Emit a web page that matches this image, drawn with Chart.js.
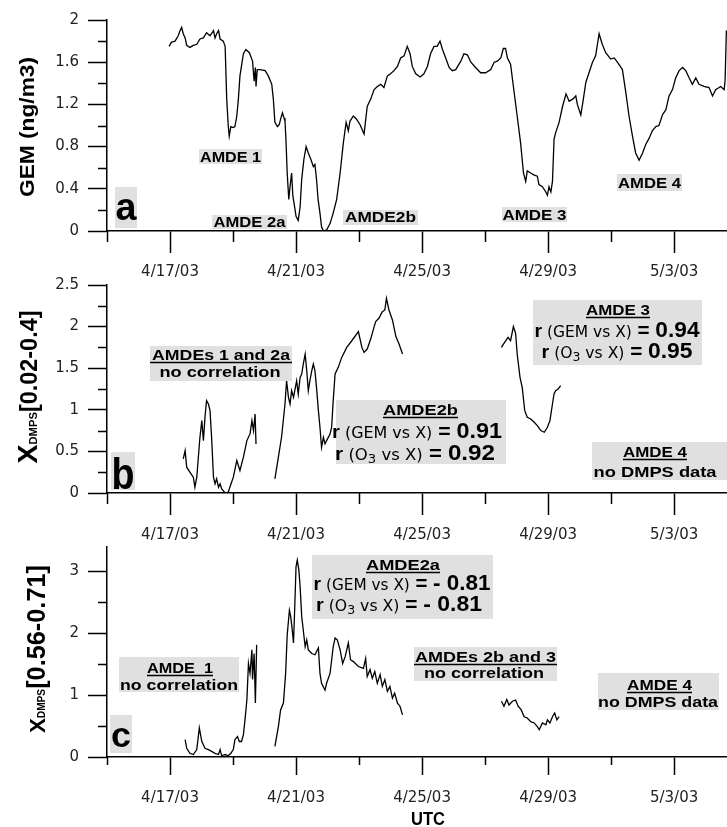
<!DOCTYPE html>
<html><head><meta charset="utf-8">
<script src="https://cdn.jsdelivr.net/npm/chart.js@4.4.0/dist/chart.umd.min.js"></script>
<style>
html,body{margin:0;padding:0;background:#fff;width:727px;height:827px;overflow:hidden;}
canvas{position:absolute;left:0;}
</style></head><body>
<canvas id="ca"></canvas><canvas id="cb"></canvas><canvas id="cc"></canvas>
<script>
// ---- axis ticks (x in days since 4/15/03 00:00 UTC) ----
const xTickDays = [2, 6, 10, 14, 18];
const xTickLabels = ['4/17/03', '4/21/03', '4/25/03', '4/29/03', '5/3/03'];
const xMinorDays = [0, 4, 8, 12, 16];
const xMaxDay = 19.68;

const aYTicks = [0, 0.4, 0.8, 1.2, 1.6, 2];
const aYTickLabels = ['0', '0.4', '0.8', '1.2', '1.6', '2'];
const aYMinor = [0.2, 0.6, 1.0, 1.4, 1.8];
const bYTicks = [0, 0.5, 1, 1.5, 2, 2.5];
const bYTickLabels = ['0', '0.5', '1', '1.5', '2', '2.5'];
const bYMinor = [0.25, 0.75, 1.25, 1.75, 2.25];
const cYTicks = [0, 1, 2, 3];
const cYTickLabels = ['0', '1', '2', '3'];
const cYMinor = [0.5, 1.5, 2.5];

// ---- panel a: GEM (ng/m3) ----
const gemDays = [1.97,2.05,2.16,2.26,2.32,2.37,2.42,2.48,2.53,2.63,2.74,2.85,2.95,3.06,3.16,3.27,3.38,3.43,3.48,3.54,3.59,3.69,3.75,3.80,3.85,3.88,3.93,4.01,4.06,4.12,4.17,4.22,4.33,4.41,4.52,4.62,4.67,4.71,4.73,4.77,4.86,5.02,5.12,5.23,5.28,5.33,5.41,5.47,5.51,5.57,5.62,5.65,5.68,5.72,5.77,5.81,5.86,5.90,5.94,6.00,6.07,6.13,6.18,6.25,6.32,6.39,6.47,6.55,6.60,6.65,6.70,6.76,6.81,6.87,6.97,7.08,7.18,7.29,7.40,7.50,7.59,7.66,7.71,7.82,7.92,8.03,8.16,8.26,8.37,8.48,8.58,8.69,8.79,8.90,9.00,9.11,9.22,9.32,9.43,9.53,9.62,9.69,9.80,9.94,10.06,10.17,10.27,10.38,10.48,10.57,10.65,10.75,10.86,10.96,11.07,11.23,11.33,11.44,11.55,11.70,11.86,12.02,12.18,12.29,12.39,12.50,12.58,12.65,12.71,12.81,12.90,13.02,13.13,13.22,13.29,13.34,13.45,13.56,13.66,13.71,13.82,13.93,13.98,14.03,14.09,14.14,14.19,14.24,14.35,14.46,14.57,14.67,14.78,14.88,14.93,15.04,15.12,15.20,15.30,15.41,15.51,15.62,15.72,15.83,15.99,16.10,16.20,16.36,16.47,16.57,16.68,16.78,16.89,17.00,17.10,17.21,17.31,17.42,17.52,17.63,17.74,17.84,17.95,18.05,18.16,18.27,18.37,18.48,18.58,18.69,18.79,18.95,19.11,19.22,19.32,19.48,19.59,19.62,19.66];
const gemValues = [1.75,1.79,1.80,1.85,1.90,1.93,1.87,1.83,1.76,1.74,1.76,1.77,1.82,1.83,1.88,1.85,1.90,1.83,1.87,1.90,1.82,1.80,1.75,1.25,0.99,0.90,0.99,0.98,0.99,1.09,1.25,1.47,1.68,1.72,1.69,1.61,1.42,1.55,1.37,1.53,1.53,1.52,1.47,1.39,1.25,1.03,0.99,1.01,1.06,1.12,1.07,1.04,0.87,0.55,0.30,0.42,0.55,0.33,0.26,0.14,0.10,0.23,0.49,0.68,0.80,0.74,0.68,0.61,0.63,0.49,0.30,0.17,0.04,0.00,0.01,0.07,0.17,0.30,0.55,0.83,1.03,0.95,1.04,1.09,1.06,1.01,0.92,1.18,1.25,1.34,1.37,1.39,1.36,1.47,1.49,1.52,1.56,1.64,1.66,1.75,1.68,1.56,1.49,1.46,1.49,1.56,1.68,1.75,1.75,1.80,1.72,1.64,1.55,1.52,1.53,1.61,1.68,1.67,1.60,1.55,1.50,1.50,1.53,1.60,1.61,1.64,1.73,1.73,1.64,1.58,1.37,1.09,0.83,0.55,0.47,0.57,0.55,0.53,0.52,0.44,0.42,0.37,0.34,0.42,0.37,0.47,0.87,0.93,1.03,1.18,1.30,1.23,1.25,1.28,1.20,1.10,1.25,1.41,1.50,1.60,1.66,1.87,1.77,1.69,1.63,1.64,1.60,1.53,1.31,1.09,0.90,0.74,0.67,0.74,0.82,0.88,0.95,0.99,1.00,1.10,1.15,1.28,1.34,1.45,1.52,1.55,1.52,1.45,1.39,1.45,1.39,1.37,1.36,1.28,1.34,1.37,1.34,1.43,1.90];

// ---- panel b: X_DMPS[0.02-0.4] ----
const b1Days = [2.42,2.48,2.53,2.63,2.74,2.79,2.85,2.90,2.95,3.01,3.06,3.11,3.16,3.22,3.27,3.32,3.38,3.43,3.48,3.54,3.59,3.64,3.75,3.85,3.90,4.01,4.12,4.22,4.33,4.44,4.54,4.60,4.65,4.70,4.73];
const b1Values = [0.41,0.51,0.31,0.25,0.19,0.07,0.19,0.43,0.67,0.87,0.63,0.91,1.11,1.07,0.99,0.67,0.19,0.11,0.17,0.07,0.11,0.05,0.00,0.01,0.07,0.19,0.39,0.27,0.43,0.63,0.71,0.87,0.75,0.95,0.59];
const b2Days = [5.33,5.44,5.54,5.65,5.70,5.76,5.81,5.86,5.92,6.02,6.07,6.13,6.18,6.23,6.29,6.34,6.39,6.44,6.50,6.55,6.60,6.65,6.71,6.76,6.81,6.87,6.92,6.97,7.08,7.13,7.18,7.24,7.34,7.45,7.61,7.77,7.98,8.09,8.16,8.26,8.37,8.48,8.53,8.63,8.74,8.82,8.87,8.95,9.06,9.17,9.27,9.38];
const b2Values = [0.17,0.43,0.67,1.07,1.35,1.15,1.07,1.23,1.15,1.35,1.19,1.39,1.43,1.55,1.67,1.47,1.23,1.35,1.47,1.55,1.47,1.27,0.99,0.79,0.55,0.67,0.59,0.63,0.71,0.79,1.11,1.43,1.51,1.63,1.75,1.83,1.94,1.75,1.69,1.73,1.85,2.00,2.06,2.10,2.18,2.20,2.34,2.20,2.08,1.88,1.79,1.67];
const b3Days = [12.52,12.62,12.73,12.81,12.90,12.97,13.02,13.11,13.18,13.26,13.34,13.45,13.56,13.66,13.77,13.88,13.98,14.06,14.14,14.19,14.24,14.32,14.40];
const b3Values = [1.75,1.81,1.87,1.83,2.00,1.92,1.67,1.39,1.27,0.99,0.91,0.89,0.85,0.81,0.75,0.73,0.79,0.87,1.07,1.19,1.23,1.25,1.29];

// ---- panel c: X_DMPS[0.56-0.71] ----
const c1Days = [2.48,2.53,2.63,2.74,2.85,2.93,3.01,3.11,3.22,3.32,3.43,3.54,3.59,3.64,3.75,3.85,3.93,4.01,4.06,4.14,4.20,4.27,4.33,4.38,4.44,4.49,4.54,4.60,4.62,4.67,4.71,4.75];
const c1Values = [0.28,0.14,0.06,0.04,0.12,0.47,0.25,0.14,0.12,0.09,0.06,0.04,0.12,0.02,0.04,0.02,0.06,0.12,0.28,0.33,0.25,0.25,0.36,0.60,0.92,1.51,1.35,1.73,1.25,1.67,0.87,1.81];
const c2Days = [5.33,5.44,5.51,5.60,5.67,5.72,5.79,5.83,5.87,5.92,5.96,6.00,6.04,6.09,6.13,6.18,6.23,6.29,6.34,6.39,6.50,6.60,6.71,6.76,6.81,6.92,6.97,7.08,7.18,7.24,7.31,7.40,7.48,7.56,7.66,7.73,7.82,7.98,8.14,8.21,8.26,8.35,8.42,8.50,8.58,8.67,8.74,8.82,8.90,8.98,9.06,9.13,9.22,9.30,9.38];
const c2Values = [0.17,0.49,0.76,0.87,1.35,1.97,2.37,2.27,2.10,1.84,2.43,3.07,3.18,3.02,2.75,2.27,2.05,1.78,1.89,1.73,1.67,1.65,1.76,1.35,1.19,1.08,1.19,1.35,1.78,1.92,1.89,1.73,1.51,1.62,1.84,1.57,1.54,1.46,1.43,1.59,1.30,1.41,1.27,1.38,1.19,1.33,1.14,1.25,1.06,1.14,0.95,1.03,0.87,0.82,0.68];
const c3Days = [12.52,12.60,12.69,12.76,12.87,12.97,13.05,13.15,13.24,13.34,13.45,13.56,13.66,13.72,13.82,13.93,13.98,14.06,14.14,14.21,14.28,14.35];
const c3Values = [0.90,0.82,0.93,0.84,0.90,0.92,0.82,0.76,0.65,0.63,0.57,0.55,0.49,0.44,0.55,0.52,0.60,0.55,0.65,0.71,0.60,0.65];

// ---- fonts / text helpers ----
const LB = s => 'bold ' + s + 'px "Liberation Sans"';
const DR = s => s + 'px "DejaVu Sans"';
const GREY = '#e0e0e0';

function drawRich(ctx, segs, cx, baseY, targetW) {
  let w = 0;
  segs.forEach(s => { ctx.font = s.f; s.w = ctx.measureText(s.t).width; w += s.w; });
  const k = targetW ? targetW / w : 1;
  ctx.save();
  ctx.translate(cx, baseY);
  ctx.scale(k, 1);
  ctx.textAlign = 'left'; ctx.textBaseline = 'alphabetic'; ctx.fillStyle = '#000';
  let x = -w / 2;
  segs.forEach(s => { ctx.font = s.f; ctx.fillText(s.t, x, s.dy || 0); x += s.w; });
  ctx.restore();
  return { left: cx - w * k / 2, right: cx + w * k / 2 };
}
const T = (t, size) => [{ t, f: LB(size || 14) }];
function rLine(kind, value) {
  const segs = [{ t: 'r', f: LB(19) }];
  if (kind === 'GEM') {
    segs.push({ t: ' (GEM vs X)', f: DR(15) });
  } else {
    segs.push({ t: ' (O', f: DR(15) }, { t: '3', f: DR(12), dy: 3 }, { t: ' vs X)', f: DR(15) });
  }
  segs.push({ t: ' = ', f: LB(20) }, { t: value, f: LB(22) });
  return segs;
}

// annotations in page coordinates
const notesA = [
  { box: [199, 149, 262, 164], lines: [{ s: T('AMDE 1'), cx: 230.5, y: 162, w: 61 }] },
  { box: [212, 215, 287, 229], lines: [{ s: T('AMDE 2a'), cx: 249.5, y: 227, w: 72 }] },
  { box: [343, 210, 418, 225], lines: [{ s: T('AMDE2b'), cx: 380.5, y: 222, w: 71 }] },
  { box: [502, 207, 567, 222], lines: [{ s: T('AMDE 3'), cx: 534.5, y: 220, w: 64 }] },
  { box: [617, 174, 682, 191], lines: [{ s: T('AMDE 4'), cx: 649.5, y: 188, w: 63 }] }
];
const notesB = [
  { box: [150, 346, 292, 381], lines: [
    { s: T('AMDEs 1 and 2a', 15), cx: 221, y: 360, w: 138, ul: 'box' },
    { s: T('no correlation', 15), cx: 220, y: 377, w: 121 }] },
  { box: [336, 400, 506, 464], lines: [
    { s: T('AMDE2b', 15), cx: 420.5, y: 415, w: 75, ul: 'text' },
    { s: rLine('GEM', '0.91'), cx: 417, y: 438, w: 170 },
    { s: rLine('O3', '0.92'), cx: 415, y: 460, w: 160 }] },
  { box: [533, 300, 702, 365], lines: [
    { s: T('AMDE 3', 15), cx: 618, y: 315, w: 64, ul: 'text' },
    { s: rLine('GEM', '0.94'), cx: 617, y: 337, w: 165 },
    { s: rLine('O3', '0.95'), cx: 617, y: 358, w: 151 }] },
  { box: [592, 442, 727, 480], lines: [
    { s: T('AMDE 4', 15), cx: 655, y: 457, w: 64, ul: 'text' },
    { s: T('no DMPS data', 15), cx: 655, y: 477, w: 123 }] }
];
const notesC = [
  { box: [312, 555, 493, 619], lines: [
    { s: T('AMDE2a', 15), cx: 403, y: 570, w: 74, ul: 'text' },
    { s: rLine('GEM', '- 0.81'), cx: 402, y: 590, w: 177 },
    { s: rLine('O3', '- 0.81'), cx: 399, y: 611, w: 166 }] },
  { box: [119, 657, 239, 692], lines: [
    { s: T('AMDE  1', 15), cx: 180, y: 673, w: 66, ul: 'text' },
    { s: T('no correlation', 15), cx: 179, y: 690, w: 118 }] },
  { box: [414, 647, 557, 681], lines: [
    { s: T('AMDEs 2b and 3', 15), cx: 485.5, y: 662, w: 141, ul: 'box' },
    { s: T('no correlation', 15), cx: 484, y: 678, w: 120 }] },
  { box: [598, 673, 719, 710], lines: [
    { s: T('AMDE 4', 15), cx: 659.5, y: 690, w: 65, ul: 'text' },
    { s: T('no DMPS data', 15), cx: 658, y: 707, w: 120 }] }
];

const panels = [
  { id: 'ca', canvasTop: 0, plotTop: 20, plotBottom: 231, canvasBottom: 280, yMax: 2,
    xTickLen: 22, xMinorLen: 11, xPad: 10,
    yTicks: aYTicks, yTickLabels: aYTickLabels, yMinor: aYMinor,
    segments: [[gemDays, gemValues]],
    title: { segs: [{ t: 'GEM (ng/m3)', f: LB(21) }], bx: 34, cy: 127, w: 140 },
    letter: { box: [115, 187, 137, 228], t: 'a', size: 38, y: 220, w: 21 },
    notes: notesA },
  { id: 'cb', canvasTop: 265, plotTop: 285, plotBottom: 493, canvasBottom: 548, yMax: 2.5,
    xTickLen: 22, xMinorLen: 11, xPad: 11,
    yTicks: bYTicks, yTickLabels: bYTickLabels, yMinor: bYMinor,
    segments: [[b1Days, b1Values], [b2Days, b2Values], [b3Days, b3Values]],
    title: { segs: [{ t: 'X', f: LB(28) }, { t: 'DMPS', f: LB(11) }, { t: '[0.02-0.4]', f: LB(23) }], bx: 37, cy: 387, w: 153 },
    letter: { box: [111, 452, 135, 490], t: 'b', size: 44, y: 489, w: 23 },
    notes: notesB },
  { id: 'cc', canvasTop: 527, plotTop: 547, plotBottom: 757, canvasBottom: 827, yMax: 3.39,
    xTickLen: 18, xMinorLen: 8, xPad: 14,
    yTicks: cYTicks, yTickLabels: cYTickLabels, yMinor: cYMinor,
    segments: [[c1Days, c1Values], [c2Days, c2Values], [c3Days, c3Values]],
    title: { segs: [{ t: 'X', f: LB(22) }, { t: 'DMPS', f: LB(10) }, { t: '[0.56-0.71]', f: LB(25) }], bx: 45, cy: 649, w: 168 },
    letter: { box: [110, 715, 132, 753], t: 'c', size: 35, y: 747, w: 20 },
    notes: notesC, utc: true }
];

function panelPlugin(p) {
  return {
    id: 'panelDecor' + p.id,
    afterDraw(chart) {
      const ctx = chart.ctx;
      const xs = chart.scales.x, ys = chart.scales.y;
      const off = p.canvasTop;
      ctx.save();
      // minor ticks
      ctx.strokeStyle = '#000'; ctx.lineWidth = 1.5;
      ctx.beginPath();
      xMinorDays.forEach(d => {
        const px = Math.round(xs.getPixelForValue(d)) + 0.5;
        ctx.moveTo(px, ys.bottom); ctx.lineTo(px, ys.bottom + p.xMinorLen);
      });
      p.yMinor.forEach(v => {
        const py = Math.round(ys.getPixelForValue(v)) + 0.5;
        ctx.moveTo(xs.left - 9, py); ctx.lineTo(xs.left, py);
      });
      ctx.stroke();
      // y axis title (rotated)
      ctx.save();
      ctx.translate(p.title.bx, p.title.cy - off);
      ctx.rotate(-Math.PI / 2);
      drawRich(ctx, p.title.segs, 0, 0, p.title.w);
      ctx.restore();
      // panel letter
      const L = p.letter;
      ctx.fillStyle = GREY;
      ctx.fillRect(L.box[0], L.box[1] - off, L.box[2] - L.box[0], L.box[3] - L.box[1]);
      drawRich(ctx, [{ t: L.t, f: LB(L.size) }], (L.box[0] + L.box[2]) / 2, L.y - off, L.w);
      // annotations
      p.notes.forEach(n => {
        ctx.fillStyle = GREY;
        ctx.fillRect(n.box[0], n.box[1] - off, n.box[2] - n.box[0], n.box[3] - n.box[1]);
        n.lines.forEach(l => {
          const r = drawRich(ctx, l.s, l.cx, l.y - off, l.w);
          if (l.ul) {
            const x1 = l.ul === 'box' ? n.box[0] : r.left;
            const x2 = l.ul === 'box' ? n.box[2] : r.right;
            ctx.strokeStyle = '#000'; ctx.lineWidth = 1.3;
            ctx.beginPath(); ctx.moveTo(x1, l.y - off + 2.5); ctx.lineTo(x2, l.y - off + 2.5); ctx.stroke();
          }
        });
      });
      if (p.utc) {
        drawRich(ctx, [{ t: 'UTC', f: LB(18) }], 428, 825 - off, 34);
      }
      ctx.restore();
    }
  };
}

function makePanel(p) {
  const canvas = document.getElementById(p.id);
  const H = p.canvasBottom - p.canvasTop;
  canvas.width = 727; canvas.height = H;
  canvas.style.top = p.canvasTop + 'px';
  canvas.style.width = '727px'; canvas.style.height = H + 'px';
  const datasets = p.segments.map(s => ({
    data: s[0].map((d, i) => ({ x: d, y: s[1][i] })),
    borderColor: '#000', borderWidth: 1.3, pointRadius: 0, tension: 0, fill: false
  }));
  new Chart(canvas, {
    type: 'line',
    data: { datasets },
    options: {
      responsive: false, animation: false, devicePixelRatio: 1,
      layout: { padding: { top: p.plotTop - p.canvasTop, left: 0, right: 0, bottom: 0 } },
      plugins: { legend: { display: false }, tooltip: { enabled: false } },
      scales: {
        x: {
          type: 'linear', min: 0, max: xMaxDay,
          afterBuildTicks: s => { s.ticks = xTickDays.map(v => ({ value: v })); },
          afterFit: s => { s.height = p.canvasBottom - p.plotBottom; },
          ticks: { autoSkip: false, maxRotation: 0, minRotation: 0, padding: p.xPad, color: '#222',
                   font: { family: 'DejaVu Sans', size: 15 }, callback: (v, i) => xTickLabels[i] },
          grid: { drawOnChartArea: false, drawTicks: true, tickLength: p.xTickLen, tickColor: '#000', tickWidth: 1.5 },
          border: { display: true, color: '#000', width: 1.5 }
        },
        y: {
          type: 'linear', min: 0, max: p.yMax,
          afterBuildTicks: s => { s.ticks = p.yTicks.map(v => ({ value: v })); },
          afterFit: s => { s.width = 107; },
          ticks: { padding: 9, color: '#222', font: { family: 'DejaVu Sans', size: 15 },
                   callback: (v, i) => p.yTickLabels[i] },
          grid: { drawOnChartArea: false, drawTicks: true, tickLength: 19, tickColor: '#000', tickWidth: 1.5 },
          border: { display: true, color: '#000', width: 1.5 }
        }
      }
    },
    plugins: [panelPlugin(p)]
  });
}
panels.forEach(makePanel);
</script>
</body></html>
